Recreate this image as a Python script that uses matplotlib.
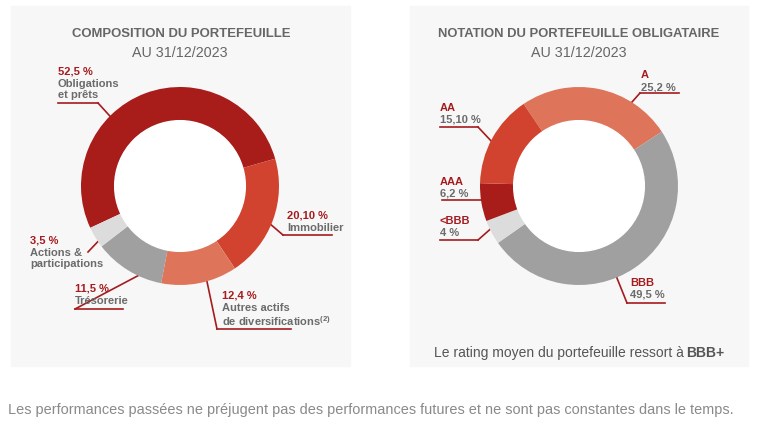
import numpy as np
import matplotlib
matplotlib.use("Agg")
from matplotlib import pyplot as plt
from matplotlib.patches import Rectangle, Circle

plt.rcParams['font.family'] = ['Liberation Sans', 'DejaVu Sans']

# data
comp_labels = ["Obligations\net prêts", "Immobilier", "Autres actifs\nde diversifications",
               "Trésorerie", "Actions &\nparticipations"]
comp_pcts = ["52,5 %", "20,10 %", "12,4 %", "11,5 %", "3,5 %"]
comp_values = [52.5, 20.1, 12.4, 11.5, 3.5]
comp_colors = ["#a81c1a", "#d1432f", "#de755a", "#a0a0a0", "#dcdcdc"]

rating_labels = ["A", "BBB", "<BBB", "AAA", "AA"]
rating_pcts = ["25,2 %", "49,5 %", "4 %", "6,2 %", "15,10 %"]
rating_values = [25.2, 49.5, 4.0, 6.2, 15.1]
rating_colors = ["#de755a", "#a0a0a0", "#dcdcdc", "#a81c1a", "#d1432f"]

RED = "#a51c1f"
GREY = "#6b6b6b"
W, H = 769, 439
LFS = 8

fig = plt.figure(figsize=(W / 100, H / 100), dpi=100)
bg = fig.add_axes([0, 0, 1, 1])
bg.set_xlim(0, W)
bg.set_ylim(H, 0)
bg.axis('off')
fig.canvas.draw()
rend = fig.canvas.get_renderer()


def fit(t, width):
    # shrink/grow the font so that the text spans the same width as the reference
    w = t.get_window_extent(rend).width
    t.set_fontsize(t.get_fontsize() * width / w)
    return t


# panels
bg.add_patch(Rectangle((11, 7), 339, 360, color="#f7f7f7", zorder=0))
bg.add_patch(Rectangle((410, 7), 338, 360, color="#f7f7f7", zorder=0))

R = 99


def donut(cx, cy, values, colors, start):
    ax = fig.add_axes([(cx - R) / W, (H - cy - R) / H, 2 * R / W, 2 * R / H])
    wedges, _ = ax.pie(values, colors=colors, startangle=start, counterclock=False,
                       radius=1, wedgeprops=dict(width=0.34, linewidth=0))
    ax.add_patch(Circle((0, 0), 0.66, color="white", zorder=3))
    ax.set_xlim(-1, 1)
    ax.set_ylim(-1, 1)
    ax.axis('off')
    return wedges


def edge_point(cx, cy, wedge, frac):
    t1, t2 = wedge.theta1, wedge.theta2
    th = np.radians(t1 + frac * (t2 - t1))
    return cx + R * np.cos(th), cy - R * np.sin(th)


# titles
fit(bg.text(181, 34, "COMPOSITION DU PORTEFEUILLE", ha='center', va='center',
            fontsize=12, fontweight='bold', color="#666666"), 218)
fit(bg.text(180, 53, "AU 31/12/2023", ha='center', va='center', fontsize=12,
            color="#666666"), 95)
fit(bg.text(579, 34, "NOTATION DU PORTEFEUILLE OBLIGATAIRE", ha='center', va='center',
            fontsize=12, fontweight='bold', color="#666666"), 282)
fit(bg.text(579, 53, "AU 31/12/2023", ha='center', va='center', fontsize=12,
            color="#666666"), 95)

# left donut
cx1, cy1 = 180, 187
w1 = donut(cx1, cy1, comp_values, comp_colors, 205)

# (text x, text y top, underline (x0, y, x1), fraction in wedge)
left_layout = [
    (58, 67, (58, 104, 98), 0.63),
    (287, 211, (283, 236, 332), 0.46),
    (222, 291, (217, 330, 291), 0.6),
    (75, 284, (75, 310, 123), 0.66),
    (30, 236, None, 0.72),
]
for i, (tx, ty, ul, frac) in enumerate(left_layout):
    bg.text(tx, ty, comp_pcts[i], ha='left', va='top', fontsize=LFS, fontweight='bold', color=RED)
    name = comp_labels[i]
    if i == 2:
        name = "Autres actifs\nde diversifications$^{\\mathregular{(2)}}$"
    bg.text(tx, ty + 12, name, ha='left', va='top', fontsize=LFS, fontweight='bold',
            color=GREY, linespacing=1.1)
    px, py = edge_point(cx1, cy1, w1[i], frac)
    if ul is not None:
        x0, y0, x1 = ul
        bg.plot([x0, x1], [y0, y0], color=RED, lw=1.2)
        knee = x1 if i == 0 else x0
        bg.plot([knee, px], [y0, py], color=RED, lw=1.2)
    else:
        bg.plot([88, px], [253, py], color=RED, lw=1.2)

# right donut
cx2, cy2 = 579, 187
w2 = donut(cx2, cy2, rating_values, rating_colors, 124)

right_layout = [
    (641, 70, (640, 94, 679), 0.27, 'left'),
    (630, 278, (627, 304, 665), 0.434, 'left'),
    (440, 216, (440, 241, 478), 0.37, 'right'),
    (440, 177, (442, 201, 482), 0.43, 'right'),
    (440, 103, (440, 128, 478), 0.53, 'right'),
]
for i, (tx, ty, ul, frac, side) in enumerate(right_layout):
    bg.text(tx, ty, rating_labels[i], ha='left', va='top', fontsize=LFS, fontweight='bold',
            color=RED)
    bg.text(tx, ty + 12, rating_pcts[i], ha='left', va='top', fontsize=LFS, fontweight='bold',
            color=GREY)
    px, py = edge_point(cx2, cy2, w2[i], frac)
    x0, y0, x1 = ul
    if i == 3:
        bg.plot([x0, px], [y0, y0], color=RED, lw=1.2)
        continue
    bg.plot([x0, x1], [y0, y0], color=RED, lw=1.2)
    knee = x0 if side == 'left' else x1
    bg.plot([knee, px], [y0, py], color=RED, lw=1.2)

# note under right donut, with bold rating
t1 = bg.text(0, 353, "Le rating moyen du portefeuille ressort à ", ha='left', va='center',
             fontsize=11, color="#555555")
t2 = bg.text(0, 353, "BBB+", ha='left', va='center', fontsize=11, fontweight='bold',
             color="#555555")
wa = t1.get_window_extent(rend).width
wb = t2.get_window_extent(rend).width
k = 290 / (wa + wb)
t1.set_fontsize(11 * k)
t2.set_fontsize(11 * k)
t1.set_x(434)
t2.set_x(434 + wa * k)

fit(bg.text(8, 410, "Les performances passées ne préjugent pas des performances futures "
            "et ne sont pas constantes dans le temps.", ha='left', va='center',
            fontsize=10, color="#8a8a8a"), 725)

fig.savefig("out.png", dpi=100)
